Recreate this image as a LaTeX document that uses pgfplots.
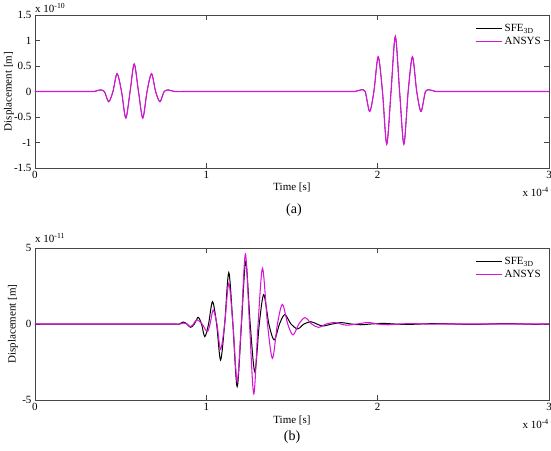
\documentclass[border=0pt]{standalone}
\usepackage{fontspec}
\setmainfont{Liberation Serif}
\usepackage{pgfplots}
\pgfplotsset{compat=1.18}
\definecolor{Mag}{RGB}{214,20,214}
\definecolor{AxGray}{RGB}{70,70,70}
\pgfplotsset{
  panel/.style={
    scale only axis,width=514pt,anchor=south west,
    xmin=0,xmax=3,xtick={0,1,2,3},
    tick align=inside,tick pos=both,major tick length=5pt,
    axis line style={AxGray,line width=0.8pt},
    every tick/.style={AxGray,line width=0.8pt},
    tick label style={font=\fontsize{11}{12}\selectfont},
    /pgf/number format/assume math mode=true,
    label style={font=\fontsize{11}{12}\selectfont},
    xlabel={Time [s]},ylabel={Displacement [m]},
    legend style={draw=none,fill=none,at={(rel axis cs:1,1)},anchor=north east,
      xshift=-3pt,yshift=-5pt,font=\fontsize{11}{12}\selectfont},
    legend cell align=left,
    legend image code/.code={\draw[#1] (0pt,0pt) -- (26pt,0pt);},
  },
  sfe/.style={black,line width=1pt,smooth,no marks},
  ans/.style={Mag,line width=1.05pt,smooth,no marks},
}
\begin{document}
\begin{tikzpicture}
\useasboundingbox (0,0) rectangle (551pt,450pt);

% (a)
\begin{axis}[panel,at={(35pt,282pt)},height=153pt,
  ymin=-1.5,ymax=1.5,ytick={-1.5,-1,-0.5,0,0.5,1,1.5},
  ylabel style={at={(axis description cs:-0.0506,0.5)},anchor=center},
  xlabel style={at={(axis description cs:0.5,-0.124)},anchor=center}]
\addplot[sfe,line width=0.6pt] coordinates {
 (0,0) (0.1,0) (0.2,0) (0.3,0) (0.345,0) (0.379,0.03) (0.405,0) (0.430,-0.20)
 (0.455,0) (0.479,0.35) (0.505,0) (0.530,-0.52) (0.555,0) (0.579,0.54)
 (0.604,0) (0.629,-0.52) (0.654,0) (0.680,0.35) (0.704,0) (0.729,-0.20)
 (0.754,0) (0.780,0.03) (0.815,0) (0.9,0) (1.0,0) (1.2,0) (1.4,0) (1.6,0)
 (1.8,0) (1.866,0) (1.901,0.03) (1.927,0) (1.953,-0.39) (1.978,0) (2.003,0.68)
 (2.028,0) (2.053,-1.03) (2.078,0) (2.103,1.08) (2.128,0) (2.153,-1.03)
 (2.178,0) (2.203,0.68) (2.228,0) (2.253,-0.39) (2.279,0) (2.305,0.03)
 (2.34,0) (2.4,0) (2.6,0) (2.8,0) (3,0)};
\addlegendentry{SFE\textsubscript{3D}}
\addplot[ans,line width=1.15pt] coordinates {
 (0,0) (0.1,0) (0.2,0) (0.3,0) (0.345,0) (0.379,0.03) (0.405,0) (0.430,-0.20)
 (0.455,0) (0.479,0.35) (0.505,0) (0.530,-0.52) (0.555,0) (0.579,0.54)
 (0.604,0) (0.629,-0.52) (0.654,0) (0.680,0.35) (0.704,0) (0.729,-0.20)
 (0.754,0) (0.780,0.03) (0.815,0) (0.9,0) (1.0,0) (1.2,0) (1.4,0) (1.6,0)
 (1.8,0) (1.866,0) (1.901,0.03) (1.927,0) (1.953,-0.39) (1.978,0) (2.003,0.68)
 (2.028,0) (2.053,-1.03) (2.078,0) (2.103,1.08) (2.128,0) (2.153,-1.03)
 (2.178,0) (2.203,0.68) (2.228,0) (2.253,-0.39) (2.279,0) (2.305,0.03)
 (2.34,0) (2.4,0) (2.6,0) (2.8,0) (3,0)};
\addlegendentry{ANSYS}
\end{axis}

% (b)
\begin{axis}[panel,at={(35pt,50pt)},height=152pt,
  ymin=-5,ymax=5,ytick={-5,0,5},
  ylabel style={at={(axis description cs:-0.0428,0.5)},anchor=center},
  xlabel style={at={(axis description cs:0.5,-0.132)},anchor=center}]
\addplot[sfe] coordinates {
 (0,0) (0.2,0) (0.4,0) (0.6,0) (0.75,0) (0.82,0) (0.843,0) (0.865,0.13)
 (0.887,0) (0.908,-0.22) (0.930,0) (0.952,0.44) (0.972,0) (0.991,-0.83)
 (1.013,0) (1.036,1.47) (1.060,0) (1.083,-2.37) (1.107,0) (1.131,3.38)
 (1.155,0) (1.180,-4.12) (1.205,0) (1.230,4.10) (1.256,0) (1.283,-3.14)
 (1.309,0) (1.335,1.93) (1.365,0) (1.396,-1.05) (1.427,0) (1.458,0.62)
 (1.494,0) (1.533,-0.32) (1.570,0) (1.610,0.15) (1.645,0) (1.680,-0.13)
 (1.735,0) (1.788,0.09) (1.845,0) (1.900,-0.05) (1.960,0) (2.030,0.04)
 (2.100,0) (2.170,-0.03) (2.250,0) (2.350,0.03) (2.450,0) (2.550,-0.03)
 (2.650,0) (2.750,0.03) (2.850,0) (2.920,-0.02) (3,0)};
\addlegendentry{SFE\textsubscript{3D}}
\addplot[ans] coordinates {
 (0,0) (0.2,0) (0.4,0) (0.6,0) (0.75,0) (0.82,0) (0.845,0) (0.868,0.06)
 (0.888,0) (0.906,-0.18) (0.925,0) (0.945,0.28) (0.975,0) (1.005,-0.50)
 (1.022,0) (1.040,0.92) (1.062,0) (1.083,-1.67) (1.107,0) (1.131,2.67)
 (1.155,0) (1.180,-3.79) (1.204,0) (1.228,4.60) (1.252,0) (1.277,-4.60)
 (1.302,0) (1.328,3.66) (1.357,0) (1.386,-2.26) (1.415,0) (1.444,1.29)
 (1.475,0) (1.506,-0.72) (1.540,0) (1.576,0.42) (1.615,0) (1.655,-0.22)
 (1.700,0) (1.750,0.10) (1.785,0) (1.820,-0.08) (1.880,0) (1.944,0.10)
 (2.000,0) (2.060,-0.05) (2.130,0) (2.200,0.03) (2.280,0) (2.400,0)
 (2.600,0) (2.800,0) (3,0)};
\addlegendentry{ANSYS}
\end{axis}

\begin{scope}[font=\fontsize{11}{12}\selectfont]
\node[anchor=west,inner sep=0pt] at (35pt,442pt) {x 10\textsuperscript{-10}};
\node[anchor=east,inner sep=0pt] at (549pt,258pt) {x 10\textsuperscript{-4}};
\node[anchor=west,inner sep=0pt] at (35pt,212pt) {x 10\textsuperscript{-11}};
\node[anchor=east,inner sep=0pt] at (549pt,26pt) {x 10\textsuperscript{-4}};
\end{scope}
\node[font=\fontsize{14}{16}\selectfont,inner sep=0pt] at (294pt,240pt) {(a)};
\node[font=\fontsize{14}{16}\selectfont,inner sep=0pt] at (292pt,13pt) {(b)};
\end{tikzpicture}
\end{document}
